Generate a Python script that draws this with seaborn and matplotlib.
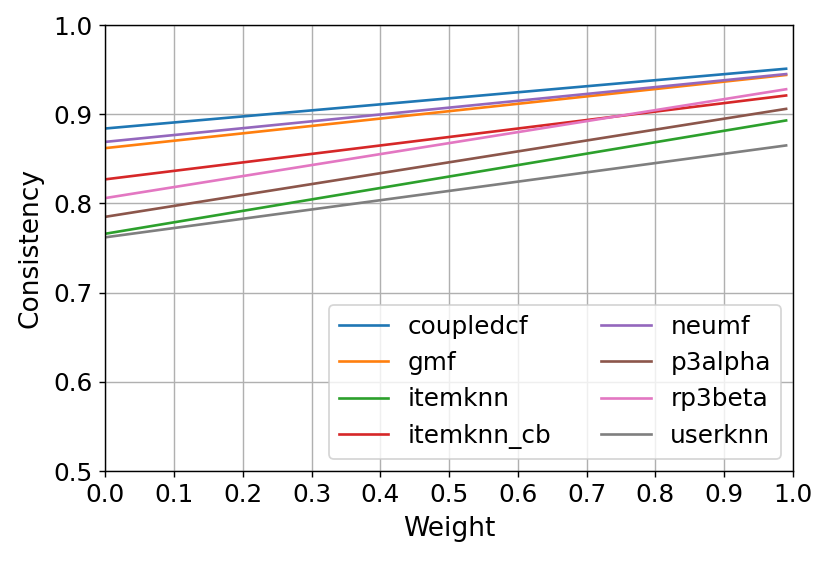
import matplotlib
matplotlib.use("Agg")
import matplotlib.pyplot as plt
import pandas as pd
import seaborn as sns

# model names, in legend order
models = ["coupledcf", "gmf", "itemknn", "itemknn_cb",
          "neumf", "p3alpha", "rp3beta", "userknn"]

# weight at the two ends of each line
weights = [0.0, 0.99]

# consistency at weight 0.0 and at weight 0.99
coupledcf = [0.884, 0.951]
gmf = [0.862, 0.944]
itemknn = [0.766, 0.893]
itemknn_cb = [0.827, 0.921]
neumf = [0.869, 0.945]
p3alpha = [0.785, 0.906]
rp3beta = [0.806, 0.928]
userknn = [0.762, 0.865]

series = [coupledcf, gmf, itemknn, itemknn_cb, neumf, p3alpha, rp3beta, userknn]

rows = []
for name, vals in zip(models, series):
    for w, v in zip(weights, vals):
        rows.append({"Weight": w, "Consistency": v, "model": name})
df = pd.DataFrame(rows)

plt.rcParams["font.family"] = ["DejaVu Sans"]
plt.rcParams["font.size"] = 14

fig, ax = plt.subplots(figsize=(830 / 127, 561 / 127), dpi=127)
fig.subplots_adjust(left=0.1269, right=0.9554, top=0.9554, bottom=0.1604)

sns.lineplot(data=df, x="Weight", y="Consistency", hue="model",
             hue_order=models, palette="tab10", linewidth=1.5, ax=ax)

ax.set_xlim(0.0, 1.0)
ax.set_ylim(0.5, 1.0)
ax.set_xticks([i / 10 for i in range(11)])
ax.set_yticks([0.5, 0.6, 0.7, 0.8, 0.9, 1.0])
ax.grid(True, color="#b0b0b0", linewidth=0.8)
ax.set_axisbelow(True)
ax.set_xlabel("Weight", fontsize=15, labelpad=5)
ax.set_ylabel("Consistency", fontsize=15, labelpad=6)
ax.legend(loc="lower right", ncol=2, title=None)

fig.savefig("out.png", dpi=127)
plt.close(fig)
